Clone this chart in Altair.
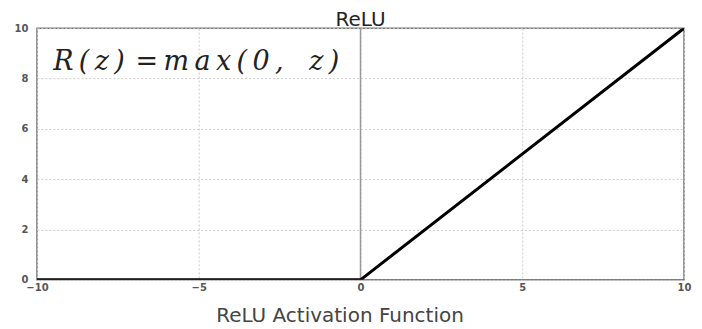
import altair as alt
import pandas as pd

z_vals = [-10, 0, 10]
r_vals = [0, 0, 10]
x_ticks = [-10, -5, 0, 5, 10]
y_ticks = [0, 2, 4, 6, 8, 10]

df = pd.DataFrame({"z": z_vals, "R": r_vals})

x_scale = alt.Scale(domain=[-10, 10], nice=False, zero=False)
y_scale = alt.Scale(domain=[0, 10], nice=False)

base = alt.Chart(df)

line = base.mark_line(color="black", strokeWidth=3, clip=True).encode(
    x=alt.X("z:Q", scale=x_scale,
            axis=alt.Axis(values=x_ticks, title="ReLU Activation Function",
                          titleFont="DejaVu Sans", titleFontSize=20, titleFontWeight="normal",
                          titleColor="#444", titleY=46, titleX=303, titleBaseline="bottom",
                          labelFont="DejaVu Sans", labelFontSize=10, labelFontWeight="bold",
                          labelColor="#555", ticks=False, labelPadding=3,
                          grid=True, gridDash=[2, 2], gridColor="#ccc", domain=False,
                          labelFlush=False)),
    y=alt.Y("R:Q", scale=y_scale,
            axis=alt.Axis(values=y_ticks, title=None,
                          labelFont="DejaVu Sans", labelFontSize=10, labelFontWeight="bold",
                          labelColor="#555", ticks=False, labelPadding=9,
                          grid=True, gridDash=[2, 2], gridColor="#ccc", domain=False,
                          labelFlush=False)),
)

vline = alt.Chart(pd.DataFrame({"z": [0]})).mark_rule(color="#999", strokeWidth=1.5).encode(
    x=alt.X("z:Q", scale=x_scale)
)

formula_text = "\u2009".join("R(z)") + "\u2009\u2009" + "=" + "\u2009" + "\u2009".join("max(0,") + "\u00a0\u00a0\u00a0" + "\u2009".join("z)")
formula = alt.Chart(pd.DataFrame({"z": [-9.5], "R": [8.65], "t": [formula_text]})).mark_text(
    align="left", baseline="middle", font="DejaVu Serif", fontStyle="italic", fontSize=27, color="#222"
).encode(
    x=alt.X("z:Q", scale=x_scale), y=alt.Y("R:Q", scale=y_scale), text="t:N"
)

chart = alt.layer(vline, line, formula).properties(
    width=648, height=252,
    title=alt.TitleParams("ReLU", font="DejaVu Sans", fontSize=20, fontWeight="normal",
                          color="#222", offset=1, dy=8),
    autosize=alt.AutoSizeParams(type="none"),
    padding={"left": 29, "top": 20, "right": 10, "bottom": 49},
).configure_view(stroke="#777", strokeWidth=1.5)

chart.save("out.html", embed_options={"renderer": "svg", "actions": False})
